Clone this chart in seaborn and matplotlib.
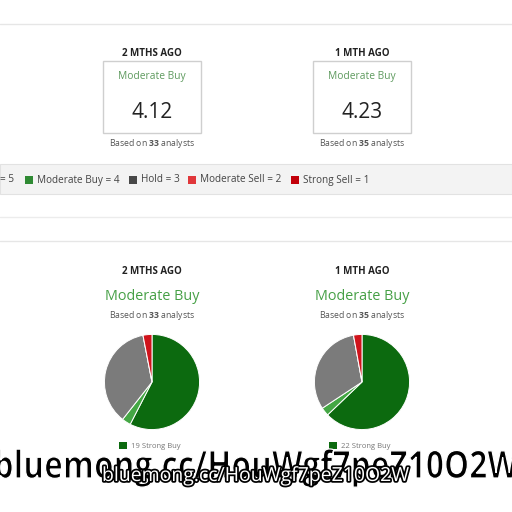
import numpy as np
import matplotlib
matplotlib.use("Agg")
import matplotlib.pyplot as plt
import matplotlib.patheffects as pe
from matplotlib.patches import Rectangle, PathPatch
from matplotlib.textpath import TextPath
from matplotlib.font_manager import FontProperties
from matplotlib.transforms import Affine2D
import seaborn as sns

# data
periods = ["2 MTHS AGO", "1 MTH AGO"]
consensus = ["Moderate Buy", "Moderate Buy"]
scores = [4.12, 4.23]
analysts = [33, 35]
ratings = ["Strong Buy", "Moderate Buy", "Hold", "Moderate Sell", "Strong Sell"]
rating_values = [5, 4, 3, 2, 1]
counts_2m = [19, 1, 12, 0, 1]
counts_1m = [22, 1, 11, 0, 1]
all_counts = [counts_2m, counts_1m]
watermark = "bluemong.cc/HouWgf7peZ10O2W"

sns.set_theme(style="white")
plt.rcParams["font.family"] = ["Open Sans", "DejaVu Sans"]
plt.rcParams["mathtext.fontset"] = "custom"
plt.rcParams["mathtext.rm"] = "Open Sans"
plt.rcParams["mathtext.bf"] = "Open Sans:bold"

pie_colors = sns.color_palette(["#0c6a0f", "#44a744", "#7b7b7b", "#ee5a5a", "#d0131b"])
key_colors = ["#0c6a0f", "#2f8a33", "#484848", "#e0363a", "#c2000a"]

fig = plt.figure(figsize=(5.12, 5.12), dpi=100)
ax = fig.add_axes([0, 0, 1, 1])
ax.set_xlim(0, 512)
ax.set_ylim(512, 0)
ax.axis("off")

# page lines / legend band
ax.axhline(24, color="#e6e6e6", lw=1)
ax.add_patch(Rectangle((0, 164), 512, 30, facecolor="#f3f3f3", edgecolor="#e2e2e2", lw=0.8))
ax.axhline(217, color="#ececec", lw=1)
ax.axhline(241, color="#e6e6e6", lw=1)

centers = [152, 362]

# top: score boxes
for cx, per, cons, sc, n in zip(centers, periods, consensus, scores, analysts):
    ax.text(cx, 53, per, ha="center", va="center", fontsize=7, fontweight="bold", color="#222222")
    ax.add_patch(Rectangle((cx - 49, 61), 98, 72, facecolor="white", edgecolor="#cfcfcf", lw=1))
    ax.text(cx, 77, cons, ha="center", va="center", fontsize=7.4, color="#5e9a5e")
    ax.text(cx, 112, f"{sc:.2f}", ha="center", va="center", fontsize=15, color="#222222")
    ax.text(cx, 143, rf"Based on $\mathbf{{{n}}}$ analysts", ha="center", va="center",
            fontsize=6.2, color="#555555")

# rating key in the grey band (cut off at the left edge)
ax.text(0, 180, f"= {rating_values[0]}", ha="left", va="center", fontsize=7.2, color="#444444")
x = 25
for lab, val, col in zip(ratings[1:], rating_values[1:], key_colors[1:]):
    ax.add_patch(Rectangle((x, 176), 8, 8, facecolor=col, edgecolor="none"))
    t = ax.text(x + 12, 180, f"{lab} = {val}", ha="left", va="center", fontsize=7.2, color="#444444")
    fig.canvas.draw()
    bb = t.get_window_extent().transformed(ax.transData.inverted())
    x = bb.x1 + 9

# bottom: pies
for cx, per, cons, n, counts in zip(centers, periods, consensus, analysts, all_counts):
    ax.text(cx, 271, per, ha="center", va="center", fontsize=7, fontweight="bold", color="#222222")
    ax.text(cx, 297, cons, ha="center", va="center", fontsize=10.4, color="#46a046")
    ax.text(cx, 316, rf"Based on $\mathbf{{{n}}}$ analysts", ha="center", va="center",
            fontsize=6.2, color="#555555")
    pax = fig.add_axes([(cx - 49) / 512, 1 - 431 / 512, 98 / 512, 98 / 512])
    pax.pie(counts, colors=pie_colors, startangle=90, counterclock=False,
            wedgeprops=dict(edgecolor="white", linewidth=0.7))
    pax.set_xlim(-1.03, 1.03)
    pax.set_ylim(-1.03, 1.03)
    ax.add_patch(Rectangle((cx - 33, 442), 8, 7, facecolor=key_colors[0], edgecolor="none"))
    ax.text(cx - 21, 446, f"{counts[0]} {ratings[0]}", ha="left", va="center",
            fontsize=5.5, color="#777777")

# watermark overlay: big condensed black text + smaller outlined white text
ax2 = fig.add_axes([0, 0, 1, 1])
ax2.set_xlim(0, 512)
ax2.set_ylim(512, 0)
ax2.axis("off")
tp = TextPath((0, 0), watermark, size=1, prop=FontProperties(family="Open Sans", weight="bold"))
ext = tp.get_extents()
sx = 522 / ext.width
sy = 38
big = Affine2D().translate(-ext.x0, 0).scale(sx, -sy).translate(-4, 478)
ax2.add_patch(PathPatch(big.transform_path(tp), facecolor="black", edgecolor="white", lw=0.9))
ax2.text(256, 476, watermark, ha="center", va="center", fontsize=14, color="white",
         path_effects=[pe.withStroke(linewidth=2.5, foreground="black")])

fig.savefig("out.png", dpi=100, facecolor="white")
